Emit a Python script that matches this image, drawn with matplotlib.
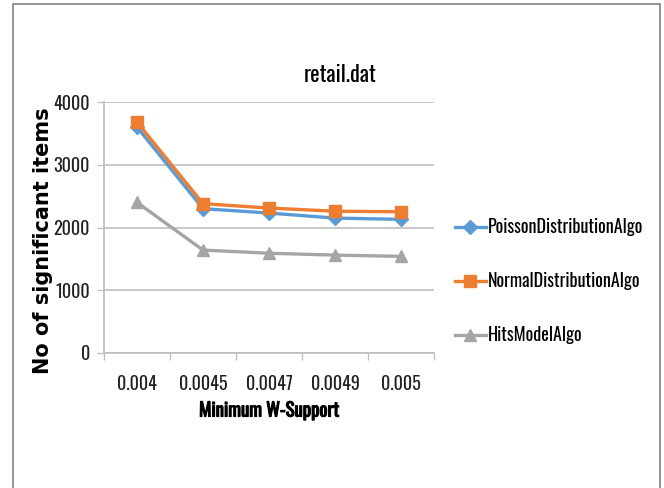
import matplotlib.pyplot as plt
import matplotlib.patheffects as pe
from matplotlib.patches import Rectangle

supports = ["0.004", "0.0045", "0.0047", "0.0049", "0.005"]
poisson = [3600, 2300, 2230, 2150, 2130]
normal = [3680, 2380, 2310, 2260, 2250]
hits = [2400, 1640, 1590, 1560, 1540]

narrow = ["Oswald", "DejaVu Sans"]
grid_col = "#bfbfbf"

fig = plt.figure(figsize=(6.64, 4.88), dpi=100)
ax = fig.add_axes([104 / 664, 1 - 353 / 488, 330 / 664, 251 / 488])

# outer chart frame, runs off the bottom edge
fig.patches.append(Rectangle((13 / 664, -0.05), 647 / 664, 1.05 - 4 / 488,
                             transform=fig.transFigure, fill=False,
                             edgecolor="#8c8c8c", lw=1.3, clip_on=False))

pos = range(len(supports))
ax.plot(pos, poisson, color="#5b9bd5", lw=2.4, marker="D", ms=7,
        label="PoissonDistributionAlgo", clip_on=False, zorder=3)
ax.plot(pos, normal, color="#ed7d31", lw=2.4, marker="s", ms=8,
        label="NormalDistributionAlgo", clip_on=False, zorder=3)
ax.plot(pos, hits, color="#a5a5a5", lw=2.4, marker="^", ms=9,
        label="HitsModelAlgo", clip_on=False, zorder=3)

ax.set_xlim(-0.5, len(supports) - 0.5)
ax.set_ylim(0, 4000)
ax.set_yticks([0, 1000, 2000, 3000, 4000])
ax.yaxis.grid(True, color=grid_col, lw=1.2)
ax.set_axisbelow(True)

# category boundaries get the tick marks, labels sit in the middle
ax.set_xticks([i - 0.5 for i in range(len(supports) + 1)])
ax.set_xticklabels([])
ax.set_xticks(list(pos), minor=True)
ax.set_xticklabels(supports, minor=True)
ax.tick_params(axis="x", which="major", length=5, color=grid_col, width=1)
ax.tick_params(axis="x", which="minor", length=0, pad=16)
ax.tick_params(axis="y", length=5, color=grid_col, width=1, pad=5)
for lab in ax.get_xticklabels(minor=True) + ax.get_yticklabels():
    lab.set_family(narrow)
    lab.set_fontsize(13)
    lab.set_fontweight("light")
    lab.set_color("#222222")

for side in ["top", "right"]:
    ax.spines[side].set_visible(False)
for side in ["left", "bottom"]:
    ax.spines[side].set_color(grid_col)
    ax.spines[side].set_linewidth(1.2)

# Oswald has no bold face here, so thicken the label with a stroke
ax.set_xlabel("Minimum W-Support", family=narrow, fontsize=13.5,
              labelpad=6,
              path_effects=[pe.withStroke(linewidth=0.8, foreground="black")])
fig.text(43 / 664, 1 - 241 / 488, "No of significant items", rotation=90,
         ha="center", va="center", fontsize=15, fontweight="bold",
         family="DejaVu Sans")
fig.text(340 / 664, 1 - 75 / 488, "retail.dat", ha="center", va="center",
         family=narrow, fontsize=16, fontweight="light")

fig.legend(loc="upper left", bbox_to_anchor=(455 / 664, 1 - 218 / 488),
           frameon=False, prop={"family": narrow, "size": 13, "weight": "light"},
           handlelength=1.7, handletextpad=0.1, labelspacing=2.0,
           borderpad=0, borderaxespad=0)

fig.savefig("out.png", dpi=100)
